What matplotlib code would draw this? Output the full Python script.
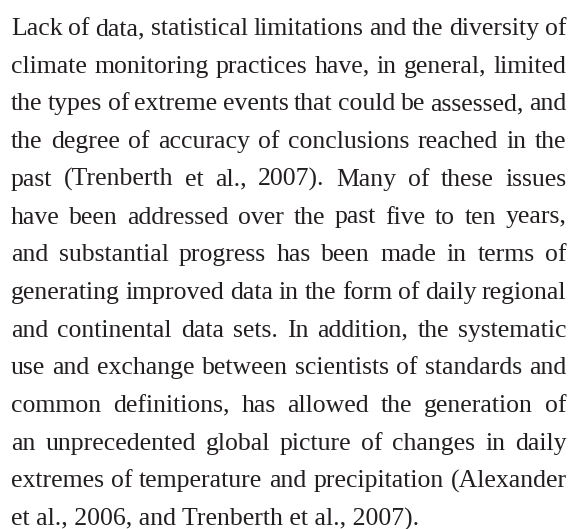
import matplotlib
matplotlib.use("Agg")
import matplotlib.pyplot as plt

lines = [
    "Lack of data, statistical limitations and the diversity of",
    "climate monitoring practices have, in general, limited",
    "the types of extreme events that could be assessed, and",
    "the degree of accuracy of conclusions reached in the",
    "past (Trenberth et al., 2007). Many of these issues",
    "have been addressed over the past five to ten years,",
    "and substantial progress has been made in terms of",
    "generating improved data in the form of daily regional",
    "and continental data sets. In addition, the systematic",
    "use and exchange between scientists of standards and",
    "common definitions, has allowed the generation of",
    "an unprecedented global picture of changes in daily",
    "extremes of temperature and precipitation (Alexander",
    "et al., 2006, and Trenberth et al., 2007).",
]

W, H, DPI = 576, 529, 100
FAMILY = "Liberation Serif"
COLOR = "#231f20"
X0, X1 = 11.0, 566.5
TOP_BASE = 35.0
LEAD = 37.7
LAST_WIDTH = 406.0

fig = plt.figure(figsize=(W / DPI, H / DPI), dpi=DPI)
fig.patch.set_facecolor("white")
renderer = fig.canvas.get_renderer()


def measure(s, size):
    t = fig.text(0, 0, s, fontsize=size, family=FAMILY)
    bb = t.get_window_extent(renderer)
    t.remove()
    return bb.width


# choose size so the (unjustified) final line matches the reference width
ref = 20.0
size = ref * LAST_WIDTH / measure(lines[-1], ref)

for i, line in enumerate(lines):
    yb = H - (TOP_BASE + i * LEAD)
    words = line.split(" ")
    if i == len(lines) - 1:
        fig.text(X0 / W, yb / H, line, fontsize=size, family=FAMILY,
                 color=COLOR, va="baseline", ha="left")
        continue
    widths = [measure(w, size) for w in words]
    gap = (X1 - X0 - sum(widths)) / (len(words) - 1)
    x = X0
    for w, wd in zip(words, widths):
        fig.text(x / W, yb / H, w, fontsize=size, family=FAMILY,
                 color=COLOR, va="baseline", ha="left")
        x += wd + gap

fig.savefig("out.png", dpi=DPI, facecolor="white")
